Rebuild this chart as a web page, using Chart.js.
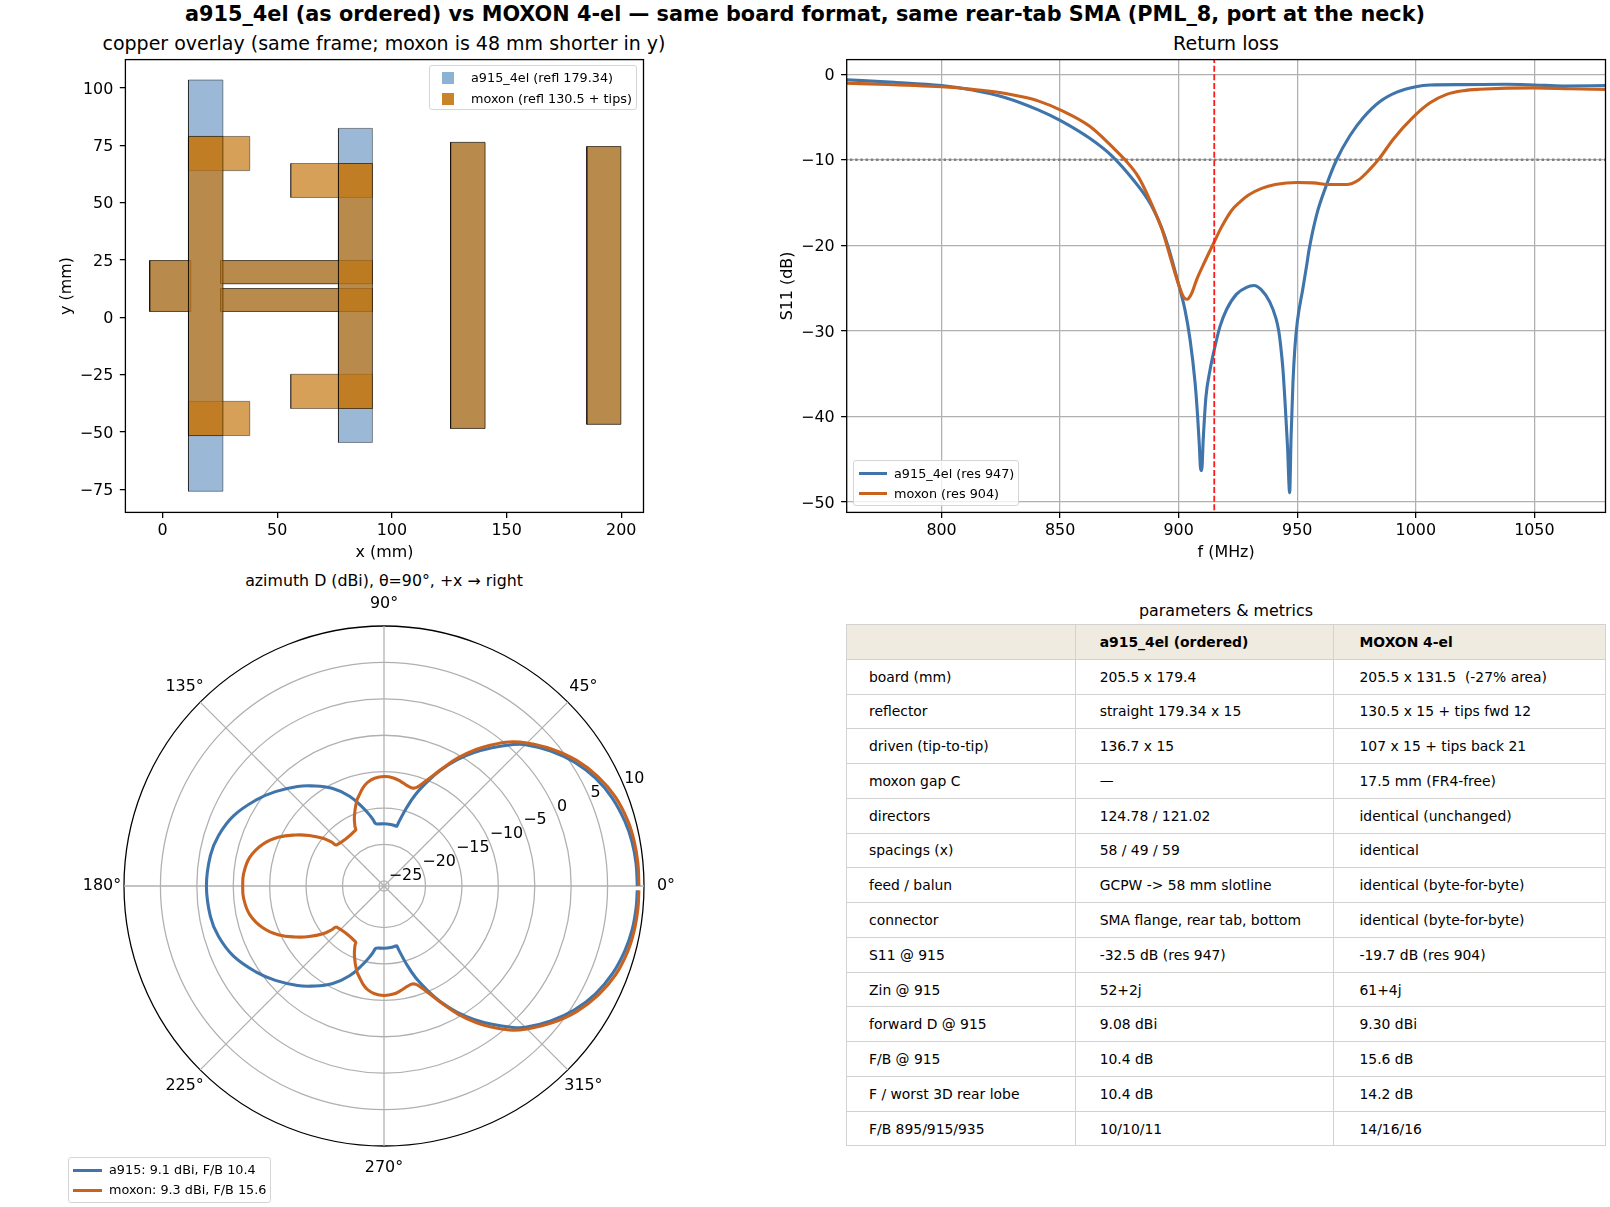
<!DOCTYPE html>
<html>
<head>
<meta charset="utf-8">
<style>
    html, body { margin: 0; padding: 0; background: #fff; }
    body { width: 1610px; height: 1207px; overflow: hidden; position: relative; font-family: "DejaVu Sans", sans-serif; color: #000; }
    canvas { position: absolute; }
    .title { position: absolute; transform: translate(-50%, -50%); white-space: nowrap; font-size: 19px; }
    #suptitle { font-weight: bold; font-size: 20.8px; }
    .legend { position: absolute; background: rgba(255,255,255,0.8); border: 1.3px solid #d5d5d5; border-radius: 3px; box-sizing: border-box; z-index: 5; }
    .legend div { position: absolute; white-space: nowrap; font-size: 12.8px; transform: translateY(-50%); }
    .legend i { position: absolute; display: block; }
    table { position: absolute; left: 846px; top: 624px; width: 759px; border-collapse: collapse; table-layout: fixed; font-size: 13.9px; }
    td { height: 34.78px; padding: 0 0 0 22px; box-sizing: border-box; border: 1.6px solid #d2d2d2; white-space: pre; }
    td:nth-child(2) { padding-left: 23.7px; }
    td:nth-child(3) { padding-left: 26px; }
    tr:first-of-type td { background: #efebe0; font-weight: bold; }
</style>
</head>
<body>
<div class="title" id="suptitle" style="left:805px;top:13.5px">a915_4el (as ordered) vs MOXON 4-el — same board format, same rear-tab SMA (PML_8, port at the neck)</div>
<div class="title" style="left:384px;top:43px">copper overlay (same frame; moxon is 48 mm shorter in y)</div>
<div class="title" style="left:1226px;top:43px">Return loss</div>
<div class="title" style="left:384px;top:580px;font-size:15.8px">azimuth D (dBi), θ=90°, +x → right</div>
<div class="title" style="left:1226px;top:610px;font-size:15.9px">parameters &amp; metrics</div>

<canvas id="copper" width="700" height="580" style="left:0;top:0"></canvas>
<canvas id="s11" width="850" height="580" style="left:760px;top:0"></canvas>
<canvas id="polar" width="640" height="640" style="left:64px;top:566px"></canvas>

<script src="https://cdn.jsdelivr.net/npm/chart.js@4"></script>
<script>
    const BLUE = '#3f75ab';
    const ORANGE = '#c9621f';

    // copper, [x0, x1, y0, y1] in mm
    const a915Rects = [
        [11.3, 26.3, -75.8, 103.5],
        [76.7, 91.5, -54.5, 82.4],
        [125.6, 140.6, -48.4, 76.3],
        [185, 199.8, -46.6, 74.5],
        [25.3, 91.5, 14.7, 24.8],
        [25.3, 91.5, 2.6, 12.6],
        [-5.6, 12.3, 2.6, 24.8]
    ];
    const moxonRects = [
        [11.3, 26.3, -51.5, 78.9],
        [11.3, 38, 64, 78.9],
        [11.3, 38, -51.5, -36.6],
        [76.7, 91.5, -39.7, 67.1],
        [55.9, 91.5, 52.3, 67.1],
        [55.9, 91.5, -39.7, -24.8],
        [125.6, 140.6, -48.4, 76.3],
        [185, 199.8, -46.6, 74.5],
        [25.3, 91.5, 14.7, 24.8],
        [25.3, 91.5, 2.6, 12.6],
        [-5.6, 12.3, 2.6, 24.8]
    ];

    // return loss
    const a915Freq = [760, 780, 800, 813, 827, 841, 850, 862.5, 872, 881, 888, 892.9, 895.5, 900, 902.7, 904.8, 906.9, 908, 908.7, 909.2, 909.7, 910.4, 911.5, 913.2, 915, 917.4, 920.2, 924.4, 928.6, 931.7, 934.9, 938.4, 941, 942.2, 943, 944, 945, 945.9, 946.8, 947.4, 948.2, 949, 950, 952.4, 954, 955, 958.2, 962.4, 966.6, 972.2, 977.8, 984.9, 992, 1000, 1006, 1020, 1038, 1050, 1062, 1080];
    const a915S11 = [-0.66, -0.95, -1.33, -1.85, -2.75, -4.2, -5.4, -7.5, -9.6, -12.4, -15.1, -18, -20.1, -24.6, -27.6, -31, -36, -40, -43.3, -46, -46.3, -42.4, -37.7, -34.6, -32.2, -29.5, -27.5, -25.7, -24.9, -24.7, -25.2, -26.6, -28.5, -30, -31.7, -34.6, -39, -43.5, -48.9, -42.4, -36, -32, -29, -25, -22.3, -20.5, -16.4, -12.9, -10, -7.2, -5.1, -3.2, -2.1, -1.46, -1.26, -1.22, -1.18, -1.26, -1.38, -1.34];
    const moxonFreq = [760, 800, 813, 827, 835, 841, 850, 862.5, 872, 877, 883, 888, 892.9, 896.4, 900, 902, 903.6, 905.5, 907.6, 911.2, 915, 918, 922.4, 926, 929.3, 935, 940.7, 950, 956.8, 963.8, 970.8, 975.7, 980.7, 984.5, 990.5, 999, 1006, 1013, 1020, 1027, 1050, 1065, 1080];
    const moxonS11 = [-1.05, -1.48, -1.78, -2.25, -2.7, -3.15, -4.17, -6.1, -8.5, -9.9, -12, -14.8, -18.1, -21.3, -24.6, -26, -26.3, -25.6, -24, -21.8, -19.6, -17.9, -15.9, -14.9, -14.15, -13.35, -12.9, -12.65, -12.7, -12.9, -12.9, -12.4, -11.1, -9.9, -7.6, -5, -3.35, -2.36, -1.93, -1.77, -1.6, -1.7, -1.8];
    const markerFreq = 915;
    const markerLevel = -10;

    // azimuth pattern, degrees and dBi
    const a915Az = [0, 5, 10, 15, 21, 27, 33, 39, 45, 48, 52, 56, 60, 64, 67, 71, 74, 77, 78, 79, 84, 90, 96, 97, 98, 99, 101, 105, 111, 118, 126, 131, 139, 146, 155, 163, 170, 180,
        190, 197, 205, 214, 221, 229, 234, 242, 249, 255, 259, 261, 262, 263, 264, 270, 276, 281, 282, 283, 286, 289, 293, 296, 300, 304, 308, 312, 315, 321, 327, 333, 339, 345, 350, 355, 359];
    const a915Db = [9.08, 9.05, 8.9, 8.55, 7.9, 6.9, 5.5, 3.75, 1.75, 0.4, -1.6, -3.6, -5.7, -8, -9.9, -12.4, -14.6, -16.7, -17.3, -17.3, -17.2, -17.15, -17.15, -17.1, -17, -16.6, -15.9, -14.6, -12.5, -10.5, -8.7, -7.6, -5.95, -4.55, -2.9, -1.95, -1.5, -1.32,
        -1.5, -1.95, -2.9, -4.55, -5.95, -7.6, -8.7, -10.5, -12.5, -14.6, -15.9, -16.6, -17, -17.1, -17.15, -17.15, -17.2, -17.3, -17.3, -16.7, -14.6, -12.4, -9.9, -8, -5.7, -3.6, -1.6, 0.4, 1.75, 3.75, 5.5, 6.9, 7.9, 8.55, 8.9, 9.05, 9.08];
    const moxonAz = [0, 5, 10, 15, 21, 27, 33, 39, 45, 49, 53, 56, 60, 64, 67, 70, 72, 74, 77, 81, 85, 90, 95, 99, 102, 105, 108, 113, 116, 117, 139, 140, 142, 146, 150, 155, 161, 168, 175, 180,
        185, 192, 199, 205, 210, 214, 218, 220, 221, 243, 244, 247, 252, 255, 258, 261, 265, 270, 275, 279, 283, 286, 288, 290, 293, 296, 300, 304, 307, 311, 315, 321, 327, 333, 339, 345, 350, 355, 359];
    const moxonDb = [9.3, 9.3, 9.2, 8.95, 8.35, 7.3, 5.9, 4.1, 2.05, 0.5, -1.5, -3.1, -5.4, -7.9, -9.6, -10.9, -11.5, -11.7, -11.55, -11.15, -10.8, -10.67, -10.85, -11.3, -11.9, -12.7, -13.5, -15.3, -16.6, -17.1, -17.1, -16.4, -15.06, -13.3, -11.7, -9.8, -8.1, -6.85, -6.35, -6.3,
        -6.35, -6.85, -8.1, -9.8, -11.7, -13.3, -15.06, -16.4, -17.1, -17.1, -16.6, -15.3, -13.5, -12.7, -11.9, -11.3, -10.85, -10.67, -10.8, -11.15, -11.55, -11.7, -11.5, -10.9, -9.6, -7.9, -5.4, -3.1, -1.5, 0.5, 2.05, 4.1, 5.9, 7.3, 8.35, 8.95, 9.2, 9.3, 9.3];
    const rTicks = [-25, -20, -15, -10, -5, 0, 5, 10];
    const angleTicks = [0, 45, 90, 135, 180, 225, 270, 315];

    // table
    const tableHeader = ['', 'a915_4el (ordered)', 'MOXON 4-el'];
    const tableNames = ['board (mm)', 'reflector', 'driven (tip-to-tip)', 'moxon gap C', 'directors', 'spacings (x)', 'feed / balun', 'connector', 'S11 @ 915', 'Zin @ 915', 'forward D @ 915', 'F/B @ 915', 'F / worst 3D rear lobe', 'F/B 895/915/935'];
    const tableA915 = ['205.5 x 179.4', 'straight 179.34 x 15', '136.7 x 15', '—', '124.78 / 121.02', '58 / 49 / 59', 'GCPW -> 58 mm slotline', 'SMA flange, rear tab, bottom', '-32.5 dB (res 947)', '52+2j', '9.08 dBi', '10.4 dB', '10.4 dB', '10/10/11'];
    const tableMoxon = ['205.5 x 131.5  (-27% area)', '130.5 x 15 + tips fwd 12', '107 x 15 + tips back 21', '17.5 mm (FR4-free)', 'identical (unchanged)', 'identical', 'identical (byte-for-byte)', 'identical (byte-for-byte)', '-19.7 dB (res 904)', '61+4j', '9.30 dBi', '15.6 dB', '14.2 dB', '14/16/16'];

    const tickFont = { family: '"DejaVu Sans"', size: 15.9 };
    const minusTick = (v) => (v < 0 ? '\u2212' + Math.abs(v) : '' + v);

    // chart.js only draws left/bottom borders, so the full box is stroked here.
    // y tick labels also sit a bit high with a middle baseline, nudge them down
    const framePlugin = {
        id: 'frame',
        afterUpdate(chart) {
            chart.scales.y.getLabelItems().forEach((it) => { it.options.translation[1] += 1.5; });
        },
        afterDraw(chart) {
            const a = chart.chartArea;
            const ctx = chart.ctx;
            ctx.save();
            ctx.strokeStyle = '#000';
            ctx.lineWidth = 1.3;
            ctx.strokeRect(a.left, a.top, a.right - a.left, a.bottom - a.top);
            ctx.restore();
        }
    };

    const cartesianAxis = (min, max, step, titleText, titlePad, fixedSize, showGrid, horizontal) => ({
        type: 'linear',
        min: min,
        max: max,
        border: { display: false },
        grid: { display: true, drawOnChartArea: showGrid, color: '#b0b0b0', lineWidth: 1.27, tickColor: '#000', tickLength: 5.6, tickWidth: 1.27 },
        ticks: { stepSize: step, includeBounds: false, color: '#000', font: tickFont, padding: horizontal ? 3.5 : 6.5, maxRotation: 0, autoSkip: false, callback: minusTick },
        title: { display: true, text: titleText, color: '#000', font: tickFont, padding: horizontal ? { top: 0, bottom: titlePad } : { top: titlePad, bottom: 0 } },
        afterFit(scale) {
            if (horizontal) scale.height = fixedSize;
            else scale.width = fixedSize;
        }
    });

    const rectDataset = (r, fill) => ({
        data: [{ x: r[0], y: r[2] }, { x: r[1], y: r[2] }, { x: r[1], y: r[3] }, { x: r[0], y: r[3] }, { x: r[0], y: r[2] }],
        showLine: true,
        pointRadius: 0,
        tension: 0,
        fill: 'shape',
        backgroundColor: fill,
        borderColor: 'rgba(0,0,0,0.42)',
        borderWidth: 1
    });

    // first dataset is drawn on top, so moxon goes first
    new Chart(document.getElementById('copper'), {
        type: 'scatter',
        data: {
            datasets: moxonRects.map((r) => rectDataset(r, 'rgba(196,119,19,0.7)'))
                .concat(a915Rects.map((r) => rectDataset(r, 'rgba(73,127,182,0.55)')))
        },
        options: {
            responsive: false,
            animation: false,
            events: [],
            layout: { padding: { top: 59.6, right: 56.5, left: 0, bottom: 0 } },
            plugins: { legend: { display: false }, tooltip: { enabled: false } },
            scales: {
                x: cartesianAxis(-16.2, 209.7, 50, 'x (mm)', 17.5, 67.6, false, true),
                y: cartesianAxis(-85, 112.4, 25, 'y (mm)', 57.5, 125.4, false, false)
            }
        },
        plugins: [framePlugin]
    });

    const toPoints = (xs, ys) => xs.map((x, i) => ({ x: x, y: ys[i] }));

    new Chart(document.getElementById('s11'), {
        type: 'scatter',
        data: {
            datasets: [
                { data: [{ x: markerFreq, y: -60 }, { x: markerFreq, y: 10 }], showLine: true, pointRadius: 0, borderColor: '#ff1a1a', borderWidth: 1.8, borderDash: [6, 2.6], order: 0 },
                { data: toPoints(moxonFreq, moxonS11), showLine: true, pointRadius: 0, borderColor: ORANGE, borderWidth: 3.1, cubicInterpolationMode: 'monotone', order: 1 },
                { data: toPoints(a915Freq, a915S11), showLine: true, pointRadius: 0, borderColor: BLUE, borderWidth: 3.1, cubicInterpolationMode: 'monotone', order: 2 },
                { data: [{ x: 700, y: markerLevel }, { x: 1100, y: markerLevel }], showLine: true, pointRadius: 0, borderColor: '#808080', borderWidth: 2.4, borderDash: [2.4, 2.8], order: 3 }
            ]
        },
        options: {
            responsive: false,
            animation: false,
            events: [],
            layout: { padding: { top: 59.6, right: 4.5, left: 0, bottom: 0 } },
            plugins: { legend: { display: false }, tooltip: { enabled: false } },
            scales: {
                x: cartesianAxis(760, 1080, 50, 'f (MHz)', 17.5, 67.6, true, true),
                y: cartesianAxis(-51.2, 1.7, 10, 'S11 (dB)', 18.5, 86.7, true, false)
            }
        },
        plugins: [framePlugin]
    });

    // radar has one spoke per label: 1 degree spokes, running clockwise from 359 down to 0
    const spokes = Array.from({ length: 360 }, (_, i) => 359 - i);
    const toSpokes = (az, db) => {
        const out = spokes.map(() => null);
        az.forEach((a, k) => { out[359 - a] = db[k]; });
        return out;
    };

    const polarLabels = {
        id: 'polarLabels',
        // the trace is not closed between 359 and 0 degrees
        afterDatasetUpdate(chart, args) {
            args.meta.dataset._loop = false;
        },
        afterDraw(chart) {
            const scale = chart.scales.r;
            const ctx = chart.ctx;
            ctx.save();
            ctx.fillStyle = '#000';
            ctx.font = '15.9px "DejaVu Sans"';
            ctx.textAlign = 'center';
            ctx.textBaseline = 'middle';
            angleTicks.forEach((a) => {
                const p = scale.getPointPosition(359 - a, 282);
                ctx.fillText(a + '°', p.x, p.y);
            });
            ctx.textAlign = 'left';
            ctx.textBaseline = 'bottom';
            rTicks.forEach((v) => {
                const p = scale.getPointPosition(359 - 22.5, scale.getDistanceFromCenterForValue(v));
                ctx.fillText(minusTick(v), p.x, p.y);
            });
            ctx.restore();
        }
    };

    const polarDataset = (az, db, color) => ({
        data: toSpokes(az, db),
        borderColor: color,
        borderWidth: 3.1,
        pointRadius: 0,
        fill: false,
        tension: 0.4,
        spanGaps: true
    });

    new Chart(document.getElementById('polar'), {
        type: 'radar',
        data: {
            labels: spokes,
            datasets: [polarDataset(moxonAz, moxonDb, ORANGE), polarDataset(a915Az, a915Db, BLUE)]
        },
        options: {
            responsive: false,
            animation: false,
            events: [],
            layout: { padding: 60 },
            plugins: { legend: { display: false }, tooltip: { enabled: false } },
            scales: {
                r: {
                    min: -25.7,
                    max: 10,
                    startAngle: 91,
                    afterBuildTicks(scale) {
                        scale.ticks = rTicks.map((v) => ({ value: v }));
                    },
                    ticks: { display: false },
                    pointLabels: { display: false },
                    grid: {
                        circular: true,
                        lineWidth: 1.27,
                        color: (ctx) => (ctx.tick && ctx.tick.value === 10 ? '#000' : '#b0b0b0')
                    },
                    angleLines: {
                        color: '#b0b0b0',
                        lineWidth: (ctx) => (spokes[ctx.index] % 45 === 0 ? 1.27 : 0)
                    }
                }
            }
        },
        plugins: [polarLabels]
    });

    // legends sit inside the axes, which chart.js cannot do by itself
    const addLegend = (box, items) => {
        const el = document.createElement('div');
        el.className = 'legend';
        el.style.cssText = `left:${box.left}px;top:${box.top}px;width:${box.width}px;height:${box.height}px`;
        items.forEach((it) => {
            const s = document.createElement('i');
            s.style.cssText = `left:${it.sx}px;top:${it.sy}px;width:${it.sw}px;height:${it.sh}px;background:${it.color}`;
            el.appendChild(s);
            const t = document.createElement('div');
            t.textContent = it.text;
            t.style.cssText = `left:${it.tx}px;top:${it.ty}px`;
            el.appendChild(t);
        });
        document.body.appendChild(el);
    };

    addLegend({ left: 429, top: 65, width: 208, height: 45 }, [
        { text: 'a915_4el (refl 179.34)', color: '#8cb2d4', sx: 12, sy: 6, sw: 12, sh: 12, tx: 41, ty: 11 },
        { text: 'moxon (refl 130.5 + tips)', color: '#c98328', sx: 12, sy: 27, sw: 12, sh: 12, tx: 41, ty: 31.5 }
    ]);
    addLegend({ left: 853, top: 460, width: 166, height: 46 }, [
        { text: 'a915_4el (res 947)', color: BLUE, sx: 5, sy: 10.5, sw: 28, sh: 3.1, tx: 40, ty: 11.5 },
        { text: 'moxon (res 904)', color: ORANGE, sx: 5, sy: 31, sw: 28, sh: 3.1, tx: 40, ty: 32 }
    ]);
    addLegend({ left: 68, top: 1157, width: 203, height: 46 }, [
        { text: 'a915: 9.1 dBi, F/B 10.4', color: BLUE, sx: 4, sy: 11, sw: 29, sh: 3.1, tx: 40, ty: 10.5 },
        { text: 'moxon: 9.3 dBi, F/B 15.6', color: ORANGE, sx: 4, sy: 31, sw: 29, sh: 3.1, tx: 40, ty: 31 }
    ]);

    const table = document.createElement('table');
    const colWidths = [229, 257.5, 272.5];
    const colgroup = document.createElement('colgroup');
    colWidths.forEach((w) => {
        const c = document.createElement('col');
        c.style.width = w + 'px';
        colgroup.appendChild(c);
    });
    table.appendChild(colgroup);
    const addRow = (cells) => {
        const tr = document.createElement('tr');
        cells.forEach((text) => {
            const td = document.createElement('td');
            td.textContent = text;
            tr.appendChild(td);
        });
        table.appendChild(tr);
    };
    addRow(tableHeader);
    tableNames.forEach((name, i) => addRow([name, tableA915[i], tableMoxon[i]]));
    document.body.appendChild(table);
</script>
</body>
</html>
